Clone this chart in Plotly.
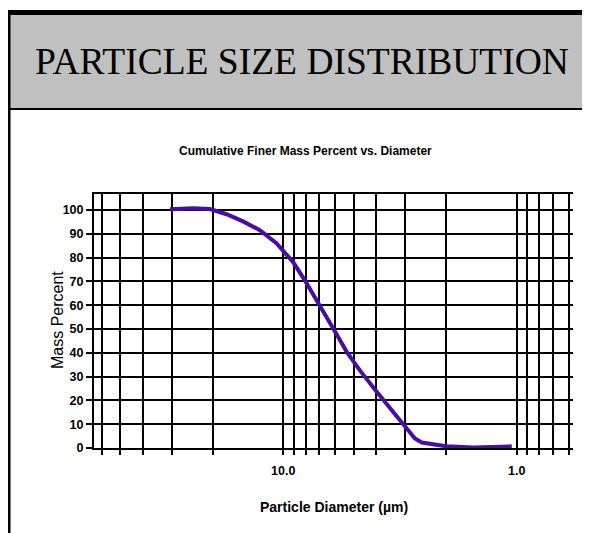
import math
import plotly.graph_objects as go

# ---- data ----
diameter_um = [30.6, 24.3, 20.6, 17.5, 14.8, 12.6, 10.7, 9.06, 8.07, 6.96, 6.11,
               5.35, 4.69, 3.98, 3.38, 2.96, 2.73, 2.55, 2.0, 1.535, 1.05]
mass_percent = [100.3, 100.7, 100.4, 98.2, 95.1, 91.5, 86.0, 78.0, 70.3, 60.0, 50.2,
                40.4, 32.5, 23.6, 15.1, 8.2, 4.0, 2.3, 0.7, 0.2, 0.7]

x_tick_values = [60, 50, 40, 30, 20, 10, 9, 8, 7, 6, 5, 4, 3, 2, 1, 0.9, 0.8, 0.7, 0.6]
x_tick_labels = {10: "10.0", 1: "1.0"}
y_tick_values = [0, 10, 20, 30, 40, 50, 60, 70, 80, 90, 100]

header_text = "PARTICLE SIZE DISTRIBUTION"
chart_title = "Cumulative Finer Mass Percent vs. Diameter"
x_title = "Particle Diameter (µm)"
y_title = "Mass Percent"

# ---- layout geometry (figure pixels; page has an 8px body margin) ----
W, H = 582, 525
L, R, T, B = 86, 17, 186, 85
PW, PH = W - L - R, H - T - B


def px(x):
    return (x - L) / PW


def py(y):
    return (H - B - y) / PH


sans = "Liberation Sans, Arial, sans-serif"

fig = go.Figure()
fig.add_trace(go.Scatter(
    x=diameter_um, y=mass_percent, mode="lines",
    line=dict(color="#4A0E9E", width=4),
    hoverinfo="skip", showlegend=False,
))

fig.update_xaxes(
    type="log",
    range=[math.log10(64.7), math.log10(0.574)],
    tickmode="array",
    tickvals=x_tick_values,
    ticktext=["<b>%s</b>" % x_tick_labels[v] if v in x_tick_labels else "" for v in x_tick_values],
    ticks="outside", ticklen=5, tickwidth=1.5, tickcolor="black",
    showgrid=True, gridcolor="black", gridwidth=1.5,
    showline=True, linecolor="black", linewidth=2, mirror=True,
    zeroline=False,
    tickfont=dict(family=sans, size=12.5, color="black"),
    ticklabelstandoff=5,
)
fig.update_yaxes(
    range=[0, 106.7],
    tickmode="array",
    tickvals=y_tick_values,
    ticktext=["<b>%d</b>" % v for v in y_tick_values],
    ticks="outside", ticklen=6, tickwidth=1.5, tickcolor="black",
    showgrid=True, gridcolor="black", gridwidth=2,
    showline=True, linecolor="black", linewidth=2, mirror=False,
    zeroline=False,
    tickfont=dict(family=sans, size=12.5, color="black"),
)

shapes = [
    # grey header box
    dict(type="rect", xref="paper", yref="paper",
         x0=px(1), x1=px(600), y0=py(100), y1=py(7),
         fillcolor="#C0C0C0", line=dict(width=0), layer="below"),
    # top thick border
    dict(type="line", xref="paper", yref="paper",
         x0=px(-2), x1=px(600), y0=py(4.5), y1=py(4.5),
         line=dict(color="black", width=5)),
    # bottom line of header
    dict(type="line", xref="paper", yref="paper",
         x0=px(-2), x1=px(600), y0=py(101), y1=py(101),
         line=dict(color="black", width=2)),
    # left border
    dict(type="line", xref="paper", yref="paper",
         x0=px(0.75), x1=px(0.75), y0=py(2), y1=py(560),
         line=dict(color="black", width=3.5)),
]

annotations = [
    dict(text=header_text, xref="paper", yref="paper", x=px(293.5), y=py(53),
         xanchor="center", yanchor="middle", showarrow=False,
         font=dict(family="Liberation Serif, Times New Roman, serif", size=37.5, color="black")),
    dict(text="<b>" + chart_title + "</b>", xref="paper", yref="paper", x=px(297), y=py(143),
         xanchor="center", yanchor="middle", showarrow=False,
         font=dict(family=sans, size=12, color="black")),
    dict(text="<b>" + x_title + "</b>", xref="paper", yref="paper", x=px(326), y=py(499),
         xanchor="center", yanchor="middle", showarrow=False,
         font=dict(family=sans, size=14, color="black")),
    dict(text=y_title, xref="paper", yref="paper", x=px(49), y=py(312),
         xanchor="center", yanchor="middle", showarrow=False, textangle=-90,
         font=dict(family=sans, size=16, color="black")),
]

fig.update_layout(
    width=W, height=H,
    margin=dict(l=L, r=R, t=T, b=B),
    paper_bgcolor="white", plot_bgcolor="white",
    shapes=shapes, annotations=annotations,
    showlegend=False,
)

fig.write_html("out.html")
